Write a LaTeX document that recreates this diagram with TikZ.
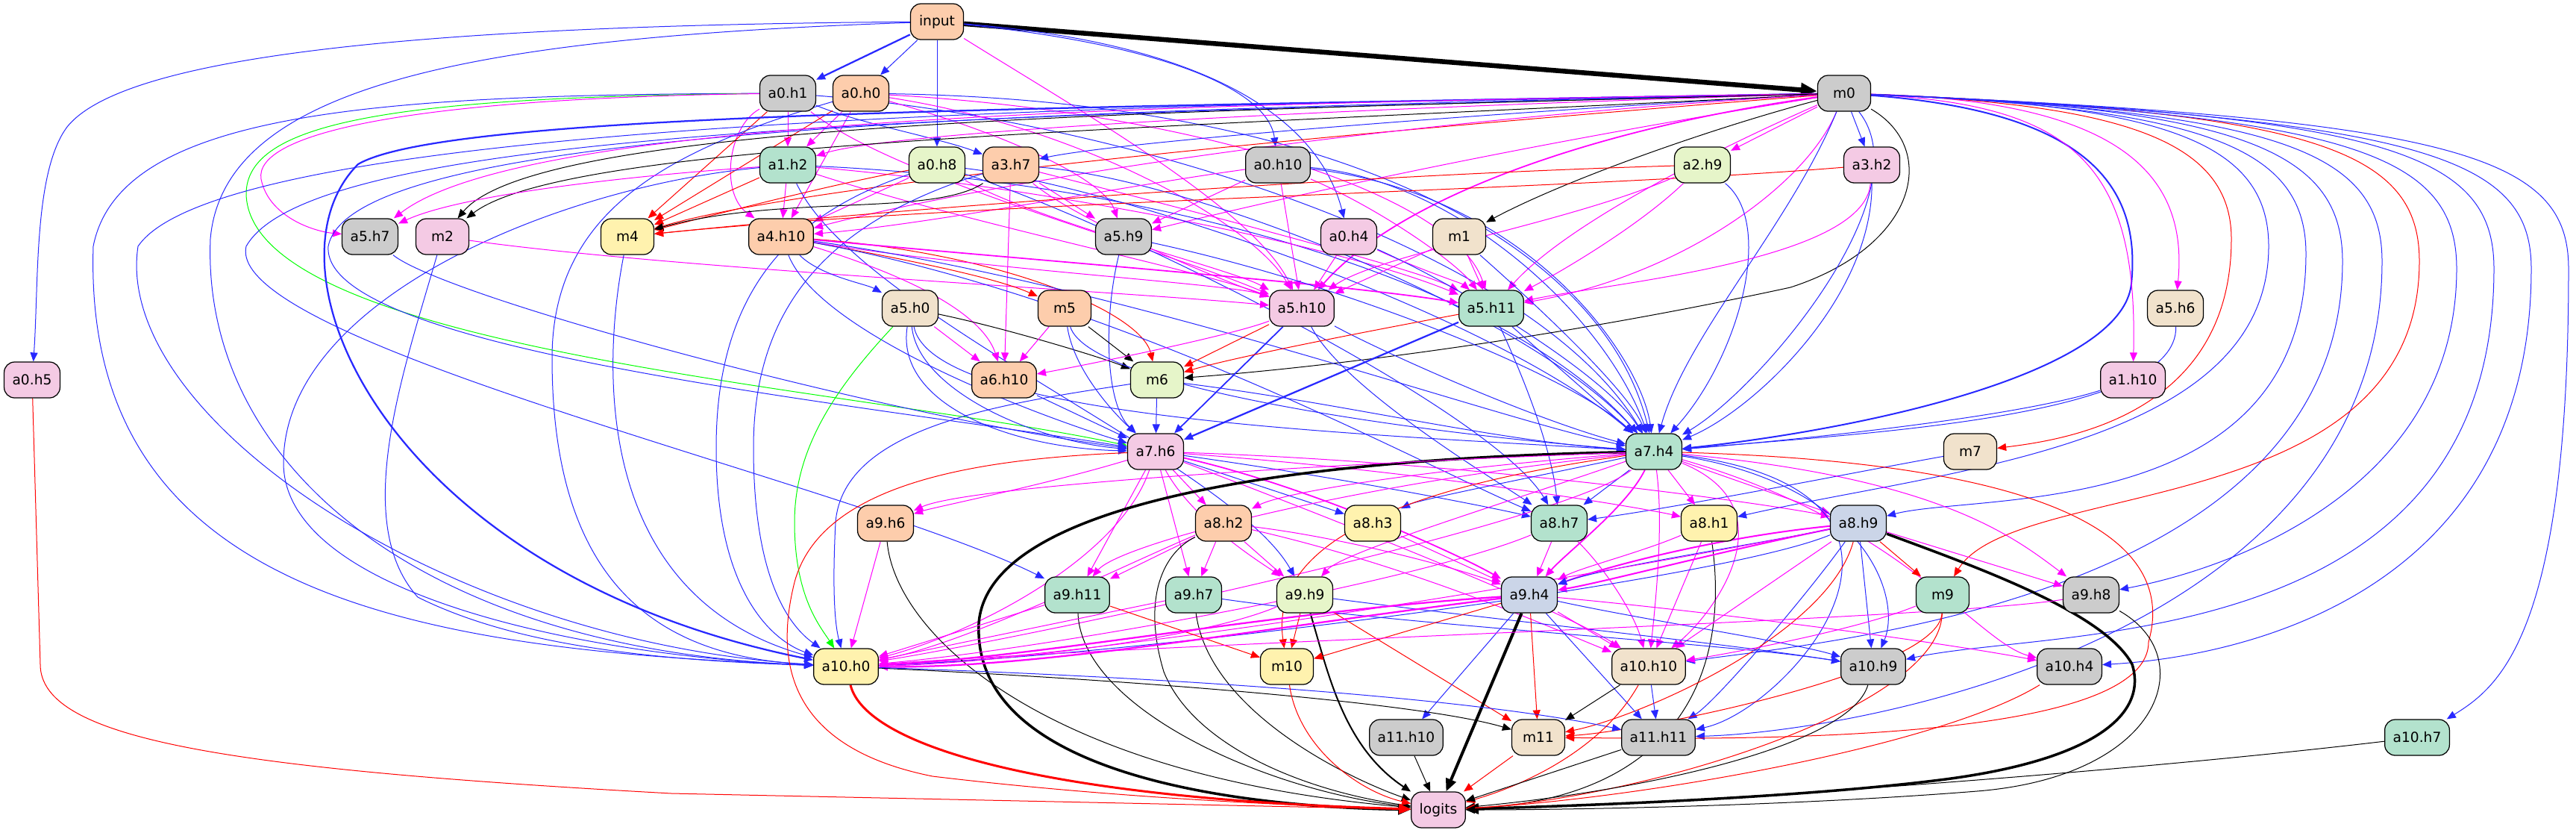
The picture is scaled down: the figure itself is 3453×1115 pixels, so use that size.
\documentclass[tikz,border=0pt]{standalone}
\usepackage{fontspec}
\setmainfont{DejaVu Sans}
\usetikzlibrary{arrows.meta}
\definecolor{cgrey}{HTML}{CCCCCC}
\definecolor{cpeach}{HTML}{FDCDAC}
\definecolor{cmint}{HTML}{B3E2CD}
\definecolor{clgreen}{HTML}{E6F5C9}
\definecolor{cpink}{HTML}{F4CAE4}
\definecolor{ctan}{HTML}{F1E2CC}
\definecolor{cyellow}{HTML}{FFF2AE}
\definecolor{clav}{HTML}{CBD5E8}
\definecolor{lnblue}{RGB}{40,40,255}
\definecolor{lnmag}{RGB}{255,0,255}
\definecolor{lnred}{RGB}{255,0,0}
\definecolor{lngreen}{RGB}{0,255,0}
\pgfdeclarelayer{edges}
\pgfsetlayers{edges,main}
\tikzset{
  nd/.style={draw, fill=#1, line width=0.25mm, rounded corners=2.8mm,
    minimum width=14.2mm, minimum height=9.6mm, inner xsep=2.2mm, inner ysep=0pt,
    font=\fontsize{10.6}{12}\selectfont},
  ee/.style={-{Triangle[length=2.4mm,width=2mm]}, line width=0.2mm},
  eb/.style={ee, draw=lnblue},
  em/.style={ee, draw=lnmag},
  er/.style={ee, draw=lnred},
  ek/.style={ee, draw=black},
  eg/.style={ee, draw=lngreen},
  tk/.style={line width=#1, -{Triangle[length=3.4mm,width=2.8mm]}}
}
\begin{document}
\begin{tikzpicture}[x=0.2mm,y=-0.2mm]
\useasboundingbox (0,0) rectangle (3453,1115);
% nodes
\node[nd=cpeach] (input) at (1256,29) {input};
\node[nd=cgrey] (a0h1) at (1056,125) {a0.h1};
\node[nd=cpeach] (a0h0) at (1154,125) {a0.h0};
\node[nd=cgrey] (m0) at (2472,125) {m0};
\node[nd=cmint] (a1h2) at (1056,221) {a1.h2};
\node[nd=clgreen] (a0h8) at (1256,221) {a0.h8};
\node[nd=cpeach] (a3h7) at (1355,221) {a3.h7};
\node[nd=cgrey] (a0h10) at (1713,221) {a0.h10};
\node[nd=clgreen] (a2h9) at (2282,221) {a2.h9};
\node[nd=cpink] (a3h2) at (2509,221) {a3.h2};
\node[nd=cgrey] (a5h7) at (496,317) {a5.h7};
\node[nd=cpink] (m2) at (593,317) {m2};
\node[nd=cyellow] (m4) at (841,317) {m4};
\node[nd=cpeach] (a4h10) at (1047,317) {a4.h10};
\node[nd=cgrey] (a5h9) at (1506,317) {a5.h9};
\node[nd=cpink] (a0h4) at (1808,317) {a0.h4};
\node[nd=ctan] (m1) at (1956,317) {m1};
\node[nd=ctan] (a5h0) at (1220,413) {a5.h0};
\node[nd=cpeach] (m5) at (1427,413) {m5};
\node[nd=cpink] (a5h10) at (1745,413) {a5.h10};
\node[nd=cmint] (a5h11) at (1999,413) {a5.h11};
\node[nd=ctan] (a5h6) at (2916,413) {a5.h6};
\node[nd=cpink] (a0h5) at (43,509) {a0.h5};
\node[nd=cpeach] (a6h10) at (1346,509) {a6.h10};
\node[nd=clgreen] (m6) at (1551,509) {m6};
\node[nd=cpink] (a1h10) at (2859,509) {a1.h10};
\node[nd=cpink] (a7h6) at (1549,605) {a7.h6};
\node[nd=cmint] (a7h4) at (2217,605) {a7.h4};
\node[nd=ctan] (m7) at (2641,605) {m7};
\node[nd=cpeach] (a9h6) at (1187,701) {a9.h6};
\node[nd=cpeach] (a8h2) at (1640,701) {a8.h2};
\node[nd=cyellow] (a8h3) at (1840,701) {a8.h3};
\node[nd=cmint] (a8h7) at (2090,701) {a8.h7};
\node[nd=cyellow] (a8h1) at (2291,701) {a8.h1};
\node[nd=clav] (a8h9) at (2491,701) {a8.h9};
\node[nd=cmint] (a9h11) at (1444,797) {a9.h11};
\node[nd=cmint] (a9h7) at (1600,797) {a9.h7};
\node[nd=clgreen] (a9h9) at (1749,797) {a9.h9};
\node[nd=clav] (a9h4) at (2050,797) {a9.h4};
\node[nd=cmint] (m9) at (2604,797) {m9};
\node[nd=cgrey] (a9h8) at (2803,797) {a9.h8};
\node[nd=cyellow] (a10h0) at (1134,893) {a10.h0};
\node[nd=cyellow] (m10) at (1725,893) {m10};
\node[nd=ctan] (a10h10) at (2210,893) {a10.h10};
\node[nd=cgrey] (a10h9) at (2511,893) {a10.h9};
\node[nd=cgrey] (a10h4) at (2774,893) {a10.h4};
\node[nd=cgrey] (a11h10) at (1885,988) {a11.h10};
\node[nd=ctan] (m11) at (2062,988) {m11};
\node[nd=cgrey] (a11h11) at (2223,988) {a11.h11};
\node[nd=cmint] (a10h7) at (3240,988) {a10.h7};
\node[nd=cpink] (logits) at (1928,1085) {logits};
\begin{pgfonlayer}{edges}
% input
\draw[ek,line width=1.3mm,-{Triangle[length=4.4mm,width=3.6mm]}] (input) -- (m0);
\draw[eb,line width=0.45mm] (input) -- (a0h1);
\draw[eb] (input) -- (a0h0);
\draw[eb] (input) -- (a0h8);
\draw[eb] (input) .. controls (1560,60) and (1700,120) .. (a0h10);
\draw[eb] (input) .. controls (1640,60) and (1770,170) .. (a0h4);
\draw[eb] (input) .. controls (600,34) and (170,70) .. (90,170) .. controls (45,230) and (52,380) .. (a0h5);
\draw[eb] (input) .. controls (650,50) and (300,110) .. (282,320) .. controls (270,620) and (560,870) .. (a10h0);
\draw[em] (input) .. controls (1450,150) and (1680,280) .. (a5h10);
% a0.h1
\draw[em] (a0h1) -- (a1h2);
\draw[eb] (a0h1) .. controls (1150,165) and (1260,185) .. (a3h7);
\draw[em] (a0h1) .. controls (975,170) and (965,260) .. (a4h10);
\draw[er] (a0h1) -- (m4);
\draw[eb] (a0h1) .. controls (500,127) and (160,150) .. (125,330) .. controls (110,800) and (560,870) .. (a10h0);
\draw[eg] (a0h1) .. controls (520,130) and (330,165) .. (330,260) .. controls (335,470) and (1150,520) .. (a7h6);
\draw[em] (a0h1) .. controls (540,132) and (340,180) .. (350,240) .. controls (360,290) and (420,310) .. (a5h7);
\draw[em] (a0h1) .. controls (1200,240) and (1550,330) .. (a5h10);
\draw[eb] (a0h1) .. controls (1500,160) and (2050,330) .. (a7h4);
% a0.h0
\draw[em] (a0h0) -- (a1h2);
\draw[er] (a0h0) -- (m4);
\draw[em] (a0h0) -- (a4h10);
\draw[em] (a0h0) .. controls (1350,180) and (1480,240) .. (a5h9);
\draw[em] (a0h0) .. controls (1450,170) and (1680,300) .. (a5h10);
\draw[em] (a0h0) .. controls (1600,150) and (1950,260) .. (a5h11);
\draw[eb] (a0h0) .. controls (1800,135) and (2150,330) .. (a7h4);
\draw[eb] (a0h0) .. controls (900,200) and (740,280) .. (740,480) .. controls (740,800) and (900,880) .. (a10h0);
% m0, left side
\draw[eb,line width=0.45mm] (m0) .. controls (1400,145) and (600,150) .. (480,220) .. controls (340,360) and (520,770) .. (a10h0);
\draw[eb] (m0) .. controls (1500,140) and (300,160) .. (185,330) .. controls (150,560) and (600,860) .. (a10h0);
\draw[eb] (m0) .. controls (1300,155) and (420,170) .. (330,330) .. controls (300,460) and (1150,650) .. (a9h11);
\draw[eb] (m0) .. controls (1300,150) and (470,175) .. (440,330) .. controls (430,470) and (1150,540) .. (a7h6);
\draw[eb] (m0) .. controls (2000,150) and (1500,190) .. (a3h7);
\draw[em] (m0) .. controls (1800,145) and (1200,175) .. (a1h2);
\draw[em] (m0) .. controls (1500,140) and (700,160) .. (a5h7);
\draw[ek] (m0) .. controls (1500,150) and (720,165) .. (m2);
\draw[ek] (m0) .. controls (1500,175) and (760,190) .. (m2);
\draw[er] (m0) .. controls (1900,170) and (1100,240) .. (m4);
\draw[em] (m0) .. controls (1800,165) and (1300,250) .. (a4h10);
\draw[em] (m0) .. controls (2000,200) and (1700,270) .. (a5h9);
\draw[em] (m0) -- (a2h9);
\draw[eb] (m0) -- (a3h2);
\draw[ek] (m0) .. controls (2300,170) and (2100,240) .. (m1);
\draw[em,line width=0.35mm] (m0) .. controls (2150,170) and (1880,260) .. (a5h10);
\draw[em] (m0) .. controls (2420,250) and (2250,370) .. (a5h11);
\draw[em] (m0) .. controls (2300,200) and (2100,300) .. (a5h11);
\draw[ek] (m0) .. controls (2600,200) and (2570,330) .. (2400,385) .. controls (2100,450) and (1800,490) .. (m6);
\draw[eb] (m0) .. controls (2400,300) and (2260,450) .. (a7h4);
\draw[eb] (m0) .. controls (2580,260) and (2360,520) .. (a7h4);
% m0, right side
\draw[eb,line width=0.4mm] (m0) .. controls (2800,150) and (2870,250) .. (2857,380) .. controls (2845,500) and (2500,575) .. (a7h4);
\draw[em] (m0) .. controls (2780,140) and (2866,220) .. (a1h10);
\draw[em] (m0) .. controls (2820,135) and (2935,220) .. (a5h6);
\draw[er] (m0) .. controls (2850,140) and (2991,190) .. (2991,320) .. controls (2991,560) and (2760,590) .. (m7);
\draw[eb] (m0) .. controls (2900,140) and (3041,190) .. (3041,330) .. controls (3041,600) and (2600,630) .. (a8h1);
\draw[eb] (m0) .. controls (2950,145) and (3091,195) .. (3091,340) .. controls (3091,700) and (2650,660) .. (a8h9);
\draw[eb] (m0) .. controls (3000,145) and (3140,200) .. (3140,350) .. controls (3140,800) and (2450,860) .. (a10h10);
\draw[eb] (m0) .. controls (3050,150) and (3193,200) .. (3193,350) .. controls (3193,850) and (2500,980) .. (a11h11);
\draw[er] (m0) .. controls (3100,150) and (3243,200) .. (3243,350) .. controls (3243,700) and (2700,640) .. (m9);
\draw[eb] (m0) .. controls (3150,155) and (3293,205) .. (3293,360) .. controls (3293,650) and (3000,760) .. (a9h8);
\draw[eb] (m0) .. controls (3200,155) and (3343,205) .. (3343,360) .. controls (3343,880) and (2750,840) .. (a10h9);
\draw[eb] (m0) .. controls (3250,160) and (3393,210) .. (3393,360) .. controls (3393,800) and (3000,880) .. (a10h4);
\draw[eb] (m0) .. controls (3300,160) and (3443,210) .. (3443,360) .. controls (3443,850) and (3350,920) .. (a10h7);
% a1.h2, a0.h8, a3.h7
\draw[er] (a1h2) -- (m4);
\draw[em] (a1h2) -- (a4h10);
\draw[em] (a1h2) .. controls (850,235) and (620,260) .. (a5h7);
\draw[eb] (a1h2) .. controls (750,250) and (380,400) .. (380,620) .. controls (380,800) and (800,880) .. (a10h0);
\draw[eb] (a1h2) .. controls (1150,420) and (1650,620) .. (a9h9);
\draw[eb] (a1h2) .. controls (1500,240) and (2000,360) .. (a7h4);
\draw[em] (a1h2) .. controls (1300,300) and (1600,360) .. (a5h10);
\draw[em] (a1h2) .. controls (1400,250) and (1800,330) .. (a5h11);
\draw[er] (a0h8) .. controls (1100,250) and (950,290) .. (m4);
\draw[em] (a0h8) -- (a4h10);
\draw[eb] (a0h8) .. controls (1050,290) and (960,400) .. (960,600) .. controls (960,800) and (1040,860) .. (a10h0);
\draw[eb] (a0h8) .. controls (1500,250) and (2000,420) .. (a7h4);
\draw[em] (a0h8) .. controls (1400,300) and (1650,360) .. (a5h10);
\draw[eb] (a0h8) .. controls (1500,300) and (2000,550) .. (a8h7);
\draw[ek] (a3h7) .. controls (1250,290) and (1050,260) .. (m4);
\draw[em] (a3h7) -- (a5h9);
\draw[em] (a3h7) .. controls (1450,300) and (1650,380) .. (a5h10);
\draw[em] (a3h7) .. controls (1550,270) and (1900,360) .. (a5h11);
\draw[eb] (a3h7) .. controls (1100,300) and (1010,420) .. (1010,600) .. controls (1010,780) and (1060,840) .. (a10h0);
\draw[eb] (a3h7) .. controls (1600,240) and (2050,420) .. (a7h4);
\draw[em] (a3h7) -- (a6h10);
% a0.h10, a2.h9, a3.h2
\draw[em] (a0h10) .. controls (1500,250) and (1250,300) .. (a4h10);
\draw[em] (a0h10) -- (a5h9);
\draw[em] (a0h10) -- (a5h10);
\draw[em] (a0h10) .. controls (1850,280) and (1950,350) .. (a5h11);
\draw[eb] (a0h10) .. controls (1950,240) and (2150,420) .. (a7h4);
\draw[eb] (a0h10) .. controls (2050,260) and (2200,480) .. (a7h4);
\draw[er] (a2h9) .. controls (1800,235) and (1200,280) .. (m4);
\draw[er] (a3h2) .. controls (2100,255) and (1300,270) .. (m4);
\draw[em] (a2h9) .. controls (2100,300) and (1850,340) .. (a5h10);
\draw[em] (a2h9) .. controls (2200,300) and (2100,360) .. (a5h11);
\draw[eb] (a2h9) .. controls (2380,300) and (2330,480) .. (a7h4);
\draw[em] (a3h2) .. controls (2500,350) and (2150,380) .. (a5h11);
\draw[eb] (a3h2) .. controls (2510,400) and (2350,550) .. (a7h4);
% third row
\draw[eb] (a5h7) .. controls (600,400) and (1200,560) .. (a7h6);
\draw[eb] (m2) .. controls (540,500) and (470,700) .. (560,800) .. controls (700,870) and (900,885) .. (a10h0);
\draw[em] (m2) .. controls (900,360) and (1500,390) .. (a5h10);
\draw[eb] (m4) .. controls (805,500) and (800,800) .. (a10h0);
\draw[eb] (a4h10) .. controls (1100,370) and (1160,380) .. (a5h0);
\draw[er] (a4h10) .. controls (1200,345) and (1330,370) .. (m5);
\draw[em] (a4h10) .. controls (1250,380) and (1320,430) .. (a6h10);
\draw[er] (a4h10) .. controls (1350,340) and (1530,420) .. (m6);
\draw[eb] (a4h10) .. controls (1100,450) and (1400,560) .. (a7h6);
\draw[em] (a4h10) .. controls (1300,360) and (1650,380) .. (a5h10);
\draw[em,line width=0.35mm] (a4h10) .. controls (1400,350) and (1800,380) .. (a5h11);
\draw[eb] (a4h10) .. controls (1500,380) and (2000,560) .. (a7h4);
\draw[eb] (a4h10) .. controls (1500,400) and (1900,620) .. (a8h7);
\draw[eb] (a5h9) .. controls (1480,420) and (1480,540) .. (a7h6);
\draw[eb] (a5h9) .. controls (1800,380) and (2100,500) .. (a7h4);
\draw[em] (a0h4) -- (a5h10);
\draw[em] (a0h4) .. controls (1900,360) and (1960,380) .. (a5h11);
\draw[eb] (a0h4) .. controls (1950,380) and (2150,500) .. (a7h4);
\draw[em] (m1) -- (a5h10);
\draw[em] (m1) -- (a5h11);
\draw[eb] (m1) .. controls (2050,400) and (2180,520) .. (a7h4);
% fourth row
\draw[em] (a5h0) -- (a6h10);
\draw[ek] (a5h0) .. controls (1350,440) and (1480,480) .. (m6);
\draw[eb] (a5h0) .. controls (1230,520) and (1380,590) .. (a7h6);
\draw[eb] (a5h0) .. controls (1200,540) and (1350,600) .. (a7h6);
\draw[eb] (a5h0) .. controls (1250,560) and (1800,580) .. (a7h4);
\draw[eg] (a5h0) .. controls (1120,520) and (1065,600) .. (1065,700) .. controls (1065,800) and (1100,840) .. (a10h0);
\draw[em] (m5) -- (a6h10);
\draw[ek] (m5) -- (m6);
\draw[eb] (m5) .. controls (1440,500) and (1500,560) .. (a7h6);
\draw[eb] (m5) .. controls (1460,520) and (1900,580) .. (a7h4);
\draw[em] (a5h10) .. controls (1650,450) and (1450,490) .. (a6h10);
\draw[er] (a5h10) -- (m6);
\draw[eb,line width=0.35mm] (a5h10) -- (a7h6);
\draw[eb] (a5h10) .. controls (1850,470) and (2050,560) .. (a7h4);
\draw[eb] (a5h10) .. controls (1800,520) and (2000,640) .. (a8h7);
\draw[er] (a5h11) .. controls (1800,450) and (1650,480) .. (m6);
\draw[eb,line width=0.45mm] (a5h11) -- (a7h6);
\draw[eb] (a5h11) -- (a7h4);
\draw[eb] (a5h11) .. controls (2040,500) and (2080,600) .. (a8h7);
\draw[eb] (a5h6) .. controls (2920,560) and (2500,580) .. (a7h4);
\draw[eb] (a1h10) .. controls (2700,560) and (2400,590) .. (a7h4);
\draw[eb] (m7) .. controls (2500,630) and (2250,680) .. (a8h7);
% fifth row
\draw[eb] (a6h10) -- (a7h6);
\draw[eb] (m6) -- (a7h6);
\draw[eb] (m6) .. controls (1350,540) and (1130,570) .. (1120,700) .. controls (1115,800) and (1120,840) .. (a10h0);
\draw[eb] (m6) .. controls (1800,540) and (2000,590) .. (a7h4);
% a7.h6
\draw[em] (a7h6) .. controls (1400,650) and (1250,680) .. (a9h6);
\draw[em] (a7h6) -- (a8h2);
\draw[em] (a7h6) -- (a9h11);
\draw[em] (a7h6) -- (a9h7);
\draw[em] (a7h6) .. controls (1600,700) and (1700,760) .. (a9h9);
\draw[em,line width=0.35mm] (a7h6) .. controls (1750,650) and (1950,740) .. (a9h4);
\draw[eb] (a7h6) -- (a8h3);
\draw[eb] (a7h6) .. controls (1800,640) and (2000,680) .. (a8h7);
\draw[em] (a7h6) .. controls (1900,630) and (2200,680) .. (a8h1);
\draw[em] (a7h6) .. controls (2000,620) and (2400,680) .. (a8h9);
\draw[er] (a7h6) .. controls (1300,615) and (1100,650) .. (1065,780) .. controls (1040,880) and (1050,1000) .. (1250,1040) .. controls (1500,1070) and (1750,1080) .. (logits);
\draw[em] (a7h6) .. controls (1500,750) and (1300,850) .. (a10h0);
\draw[em] (a7h6) .. controls (1800,700) and (2100,820) .. (a10h10);
% a7.h4
\draw[ek,tk=0.7mm] (a7h4) .. controls (1700,615) and (1300,680) .. (1312,850) .. controls (1320,1050) and (1700,1082) .. (logits);
\draw[eb] (a7h4) .. controls (2050,640) and (1900,670) .. (a8h3);
\draw[eb] (a7h4) -- (a8h7);
\draw[em] (a7h4) -- (a8h1);
\draw[em] (a7h4) -- (a8h9);
\draw[em] (a7h4) .. controls (1900,630) and (1720,660) .. (a8h2);
\draw[em] (a7h4) .. controls (1800,620) and (1300,650) .. (a9h6);
\draw[em] (a7h4) .. controls (1800,650) and (1500,730) .. (a9h11);
\draw[em] (a7h4) .. controls (2000,680) and (1800,740) .. (a9h9);
\draw[em,line width=0.35mm] (a7h4) .. controls (2180,680) and (2100,740) .. (a9h4);
\draw[em] (a7h4) .. controls (2100,700) and (1400,850) .. (a10h0);
\draw[er] (a7h4) .. controls (1900,650) and (1700,720) .. (m10);
\draw[em] (a7h4) .. controls (2230,700) and (2220,800) .. (a10h10);
\draw[em] (a7h4) .. controls (2400,680) and (2300,820) .. (a10h10);
\draw[eb] (a7h4) .. controls (2500,650) and (2550,800) .. (a10h9);
\draw[em] (a7h4) .. controls (2600,640) and (2700,720) .. (a9h8);
\draw[em] (a7h4) .. controls (2550,700) and (2650,860) .. (a10h4);
\draw[eb] (a7h4) .. controls (2650,660) and (2400,950) .. (a11h11);
\draw[er] (a7h4) .. controls (2750,620) and (2920,720) .. (2880,860) .. controls (2880,1000) and (2300,990) .. (m11);
% a8 row
\draw[em] (a8h2) -- (a9h11);
\draw[em] (a8h2) -- (a9h7);
\draw[em] (a8h2) -- (a9h9);
\draw[em] (a8h2) .. controls (1800,720) and (1950,760) .. (a9h4);
\draw[em] (a8h2) .. controls (1500,760) and (1300,860) .. (a10h0);
\draw[ek] (a8h2) .. controls (1560,740) and (1530,800) .. (1560,900) .. controls (1600,1000) and (1750,1060) .. (logits);
\draw[em] (a8h2) .. controls (1900,760) and (2100,850) .. (a10h10);
\draw[em] (a8h3) -- (a9h4);
\draw[em] (a8h7) -- (a9h4);
\draw[em] (a8h7) .. controls (2150,760) and (2190,820) .. (a10h10);
\draw[em] (a8h7) .. controls (1900,780) and (1400,870) .. (a10h0);
\draw[em] (a8h1) .. controls (2200,740) and (2120,760) .. (a9h4);
\draw[em] (a8h1) -- (a10h10);
\draw[ek] (a8h1) .. controls (2320,900) and (2250,1070) .. (logits);
\draw[ek,tk=0.7mm] (a8h9) .. controls (2650,760) and (2820,820) .. (2858,890) .. controls (2880,960) and (2800,1020) .. (2600,1045) .. controls (2400,1070) and (2100,1080) .. (logits);
\draw[em,line width=0.4mm] (a8h9) .. controls (2300,720) and (2150,760) .. (a9h4);
\draw[em,line width=0.4mm] (a8h9) .. controls (2300,740) and (2150,780) .. (a9h4);
\draw[eb] (a8h9) .. controls (2350,730) and (2150,760) .. (a9h4);
\draw[er] (a8h9) -- (m9);
\draw[em] (a8h9) -- (a9h8);
\draw[em] (a8h9) .. controls (2200,760) and (1500,880) .. (a10h0);
\draw[eb] (a8h9) .. controls (2300,780) and (1500,880) .. (a10h0);
\draw[em] (a8h9) -- (a10h10);
\draw[eb] (a8h9) -- (a10h9);
\draw[eb] (a8h9) .. controls (2420,800) and (2300,940) .. (a11h11);
\draw[er] (a8h9) .. controls (2450,850) and (2200,960) .. (m11);
% a9 row
\draw[em] (a9h6) -- (a10h0);
\draw[ek] (a9h6) .. controls (1200,850) and (1400,1040) .. (logits);
\draw[em] (a9h11) -- (a10h0);
\draw[er] (a9h11) -- (m10);
\draw[ek] (a9h11) .. controls (1450,950) and (1700,1060) .. (logits);
\draw[em] (a9h7) -- (a10h0);
\draw[ek] (a9h7) .. controls (1620,950) and (1800,1040) .. (logits);
\draw[eb] (a9h7) .. controls (1900,840) and (2300,860) .. (a10h9);
\draw[em] (a9h9) .. controls (1600,860) and (1300,890) .. (a10h0);
\draw[er] (a9h9) -- (m10);
\draw[er] (a9h9) -- (m11);
\draw[ek,line width=0.4mm] (a9h9) .. controls (1780,900) and (1800,1000) .. (logits);
\draw[eb] (a9h9) .. controls (2000,830) and (2300,860) .. (a10h9);
\draw[em,line width=0.45mm] (a9h4) .. controls (1700,820) and (1400,880) .. (a10h0);
\draw[em,line width=0.45mm] (a9h4) .. controls (1700,840) and (1400,895) .. (a10h0);
\draw[er] (a9h4) -- (m10);
\draw[eb] (a9h4) -- (a11h10);
\draw[er] (a9h4) -- (m11);
\draw[eb] (a9h4) -- (a11h11);
\draw[em] (a9h4) -- (a10h10);
\draw[eb] (a9h4) .. controls (2200,830) and (2400,860) .. (a10h9);
\draw[ek,tk=0.8mm] (a9h4) -- (logits);
\draw[em] (a9h4) .. controls (2300,820) and (2600,860) .. (a10h4);
\draw[er] (m9) .. controls (2600,900) and (2200,980) .. (m11);
\draw[er] (m9) .. controls (2600,950) and (2200,1070) .. (logits);
\draw[em] (m9) .. controls (2500,840) and (2350,870) .. (a10h10);
\draw[ek] (a9h8) .. controls (2950,880) and (2900,1040) .. (2650,1060) .. controls (2400,1080) and (2100,1085) .. (logits);
\draw[em] (a9h8) .. controls (2600,830) and (1600,860) .. (a10h0);
% a10 and a11 rows
\draw[er,line width=0.6mm,-{Triangle[length=3.2mm,width=2.6mm]}] (a10h0) .. controls (1160,1000) and (1400,1070) .. (logits);
\draw[ek] (a10h0) .. controls (1500,910) and (1900,940) .. (m11);
\draw[eb] (a10h0) .. controls (1500,905) and (1950,930) .. (a11h11);
\draw[er] (m10) .. controls (1740,1000) and (1820,1060) .. (logits);
\draw[ek] (a10h10) -- (m11);
\draw[eb] (a10h10) -- (a11h11);
\draw[er] (a10h10) .. controls (2150,1000) and (2050,1050) .. (logits);
\draw[ek] (a10h9) .. controls (2480,1000) and (2200,1060) .. (logits);
\draw[er] (a10h4) .. controls (2600,1000) and (2200,1070) .. (logits);
\draw[ek] (a10h7) .. controls (2800,1040) and (2200,1080) .. (logits);
\draw[er] (a0h5) -- (54,890) .. controls (54,990) and (300,1030) .. (900,1063) -- (logits);
\draw[ek] (a11h10) -- (logits);
\draw[er] (m11) -- (logits);
\draw[ek] (a11h11) -- (logits);
\end{pgfonlayer}
\end{tikzpicture}
\end{document}
